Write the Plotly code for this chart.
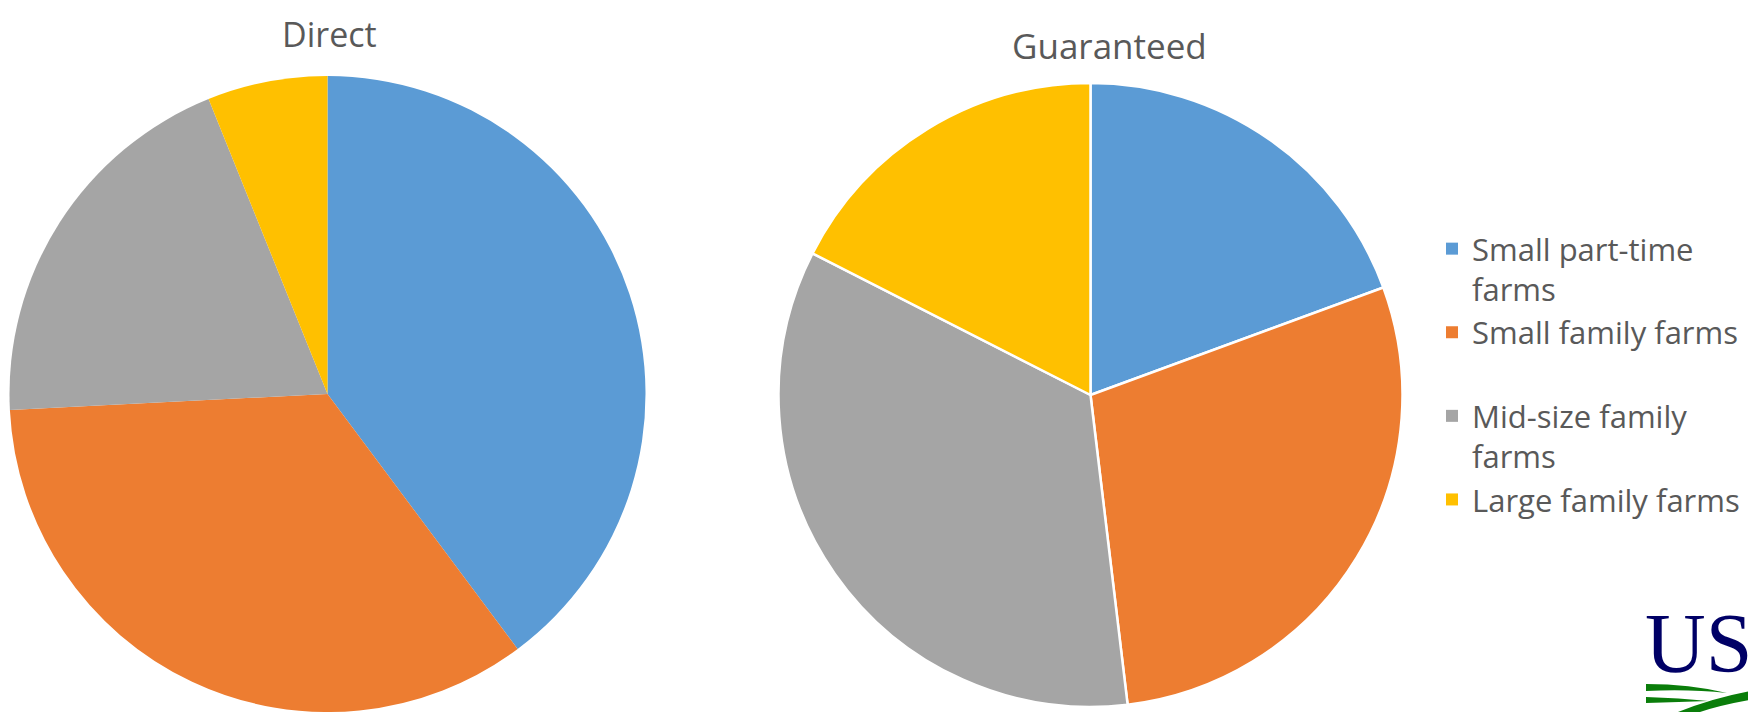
import plotly.graph_objects as go

# ---------------- data ----------------
categories = ["Small part-time farms", "Small family farms",
              "Mid-size family farms", "Large family farms"]
legend_labels = ["Small part-time<br>farms", "Small family farms<br> ",
                 "Mid-size family<br>farms", "Large family farms"]
direct_share = [39.8, 34.4, 19.7, 6.1]
guaranteed_share = [19.4, 28.7, 34.4, 17.5]
colors = ["#5B9BD5", "#ED7D31", "#A5A5A5", "#FFC000"]
titles = ["Direct", "Guaranteed"]

# page has an 8px body margin; the figure is sized so it fills the window
OFF = 8
FW, FH = 1756 - OFF, 712 - OFF


def px(x):  # page pixel x -> paper fraction
    return (x - OFF) / FW


def py(y):  # page pixel y -> paper fraction
    return 1 - (y - OFF) / FH


fig = go.Figure()

fig.add_trace(go.Pie(
    labels=legend_labels, values=direct_share, sort=False,
    direction="clockwise", rotation=0, textinfo="none",
    marker=dict(colors=colors, line=dict(width=0)),
    domain=dict(x=[px(9), px(646)], y=[0, py(76)]),
    showlegend=True, hoverinfo="label+percent",
))
fig.add_trace(go.Pie(
    labels=legend_labels, values=guaranteed_share, sort=False,
    direction="clockwise", rotation=0, textinfo="none",
    marker=dict(colors=colors, line=dict(width=2.5, color="white")),
    domain=dict(x=[px(778.5), px(1402.5)], y=[py(707), py(83)]),
    showlegend=True, hoverinfo="label+percent",
))

fig.add_annotation(text=titles[0], x=px(329), y=py(34), xref="paper", yref="paper",
                   showarrow=False, xanchor="center", yanchor="middle",
                   font=dict(family="Open Sans", size=34, color="#595959"))
fig.add_annotation(text=titles[1], x=px(1109), y=py(45), xref="paper", yref="paper",
                   showarrow=False, xanchor="center", yanchor="middle",
                   font=dict(family="Open Sans", size=35, color="#595959"))

# logo fragment (bottom right)
fig.add_annotation(text="US", x=px(1698), y=py(643), xref="paper", yref="paper",
                   showarrow=False, xanchor="center", yanchor="middle",
                   font=dict(family="Liberation Serif", size=84, color="#000066"))
green = "#0A7D0A"
swooshes = [
    f"M {px(1646)},{py(684)} Q {px(1690)},{py(684)} {px(1727)},{py(693)} "
    f"Q {px(1690)},{py(689)} {px(1646)},{py(691)} Z",
    f"M {px(1646)},{py(697)} Q {px(1680)},{py(698)} {px(1708)},{py(701)} "
    f"Q {px(1680)},{py(702)} {px(1646)},{py(703)} Z",
    f"M {px(1678)},{py(712)} Q {px(1715)},{py(697)} {px(1756)},{py(690)} "
    f"L {px(1756)},{py(699)} Q {px(1725)},{py(704)} {px(1700)},{py(712)} Z",
]
for p in swooshes:
    fig.add_shape(type="path", path=p, xref="paper", yref="paper",
                  fillcolor=green, line=dict(width=0))

fig.update_layout(
    width=FW, height=FH,
    margin=dict(l=0, r=0, t=0, b=0),
    paper_bgcolor="white", plot_bgcolor="white",
    legend=dict(
        x=px(1432), y=py(222), xanchor="left", yanchor="top",
        font=dict(family="Open Sans", size=31, color="#595959"),
        valign="top", bgcolor="rgba(0,0,0,0)",
    ),
)

fig.write_html("out.html")
